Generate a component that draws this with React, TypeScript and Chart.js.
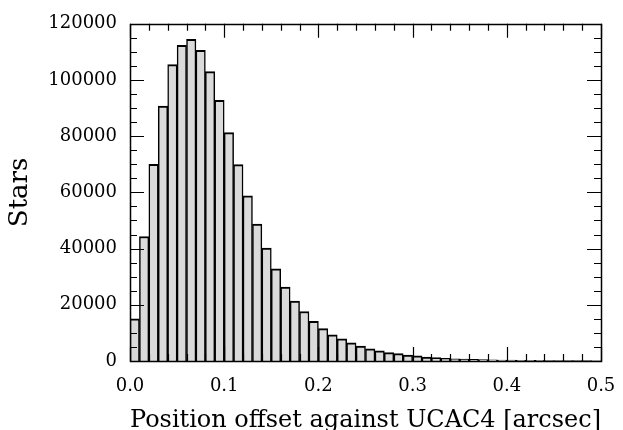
import React, { useEffect, useRef } from "react";
import { Chart, registerables } from "chart.js";

Chart.register(...registerables);

// Histogram of position offsets (bin width 0.01 arcsec, 0.00 - 0.50)
const binWidth = 0.01;
const counts = [
  15000, 44300, 70000, 90700, 105500, 112300, 114500, 110600, 103000, 92800,
  81300, 69900, 58800, 48700, 40200, 32800, 26300, 21300, 17600, 14100,
  11500, 9300, 7900, 6500, 5300, 4300, 3600, 3000, 2600, 2100,
  1800, 1400, 1200, 950, 800, 650, 560, 480, 420, 360,
  310, 270, 240, 210, 180, 160, 140, 120, 110, 100,
];
const xTickValues = [0.0, 0.1, 0.2, 0.3, 0.4, 0.5];
const yTickValues = [0, 20000, 40000, 60000, 80000, 100000, 120000];
const xMinorStep = 0.02;
const yMinorStep = 5000;
const xTitle = "Position offset against UCAC4 [arcsec]";
const yTitle = "Stars";

const FONT = "'DejaVu Serif', serif";

const frameTicks = {
  id: "frameTicks",
  afterDatasetsDraw(chart: any) {
    const { ctx, chartArea, scales } = chart;
    const { left, right, top, bottom } = chartArea;
    const xs = scales.x;
    const ys = scales.y;
    ctx.save();
    ctx.strokeStyle = "#000";
    ctx.lineWidth = 1.2;
    ctx.beginPath();
    const crisp = (p: number) => Math.round(p) + 0.5;
    const xMax = xTickValues[xTickValues.length - 1];
    const yMax = yTickValues[yTickValues.length - 1];
    for (let i = 0; i * xMinorStep <= xMax + 1e-9; i++) {
      const px = crisp(xs.getPixelForValue(i * xMinorStep));
      ctx.moveTo(px, bottom);
      ctx.lineTo(px, bottom - 7);
      ctx.moveTo(px, top);
      ctx.lineTo(px, top + 7);
    }
    for (const v of xTickValues) {
      const px = crisp(xs.getPixelForValue(v));
      ctx.moveTo(px, bottom);
      ctx.lineTo(px, bottom - 14);
      ctx.moveTo(px, top);
      ctx.lineTo(px, top + 14);
    }
    for (let i = 0; i * yMinorStep <= yMax + 1e-9; i++) {
      const py = crisp(ys.getPixelForValue(i * yMinorStep));
      ctx.moveTo(left, py);
      ctx.lineTo(left + 7, py);
      ctx.moveTo(right, py);
      ctx.lineTo(right - 7, py);
    }
    for (const v of yTickValues) {
      const py = crisp(ys.getPixelForValue(v));
      ctx.moveTo(left, py);
      ctx.lineTo(left + 14, py);
      ctx.moveTo(right, py);
      ctx.lineTo(right - 14, py);
    }
    ctx.stroke();
    ctx.lineWidth = 1.5;
    ctx.strokeRect(crisp(left), crisp(top), Math.round(right - left), Math.round(bottom - top));
    ctx.restore();
  },
};

export default function App() {
  const ref = useRef<HTMLCanvasElement | null>(null);

  useEffect(() => {
    if (!ref.current) return;
    const data = counts.map((c, i) => ({ x: (i + 0.5) * binWidth, y: c }));
    const chart = new Chart(ref.current, {
      type: "bar",
      data: {
        datasets: [
          {
            data,
            backgroundColor: "#dadada",
            borderColor: "#000",
            borderWidth: { top: 2, left: 1.5, right: 1.5, bottom: 0 },
            borderSkipped: false,
            barPercentage: 1,
            categoryPercentage: 1,
          } as any,
        ],
      },
      options: {
        responsive: false,
        animation: false,
        devicePixelRatio: 1,
        layout: { padding: { left: 0, top: 20, right: 22, bottom: 0 } },
        plugins: { legend: { display: false }, tooltip: { enabled: false } },
        scales: {
          x: {
            type: "linear",
            min: 0,
            max: 0.5,
            offset: false,
            grid: { display: false, drawTicks: false },
            border: { display: false },
            afterBuildTicks: (s: any) => {
              s.ticks = xTickValues.map((v) => ({ value: v }));
            },
            afterFit: (s: any) => {
              s.height = 69;
              s.paddingLeft = 0;
              s.paddingRight = 0;
            },
            ticks: {
              color: "#000",
              font: { family: FONT, size: 18 },
              padding: 15,
              maxRotation: 0,
              callback: (v: any) => Number(v).toFixed(1),
            },
            title: {
              display: true,
              text: xTitle,
              color: "#000",
              font: { family: FONT, size: 25, lineHeight: 1 },
              padding: { top: 0, bottom: -3 },
            },
          },
          y: {
            type: "linear",
            min: 0,
            max: 120000,
            grid: { display: false, drawTicks: false },
            border: { display: false },
            afterBuildTicks: (s: any) => {
              s.ticks = yTickValues.map((v) => ({ value: v }));
            },
            afterFit: (s: any) => {
              s.width = 130;
            },
            ticks: {
              color: "#000",
              font: { family: FONT, size: 18 },
              padding: 13,
              callback: (v: any) => String(v),
            },
            title: {
              display: true,
              text: yTitle,
              color: "#000",
              font: { family: FONT, size: 26, lineHeight: 1.2 },
              padding: { top: 5, bottom: 0 },
            },
          },
        },
      },
      plugins: [frameTicks],
    });
    return () => chart.destroy();
  }, []);

  return (
    <div style={{ position: "fixed", left: 0, top: 0, width: 623, height: 430, background: "#fff" }}>
      <canvas ref={ref} width={623} height={430} style={{ width: 623, height: 430 }} />
    </div>
  );
}
